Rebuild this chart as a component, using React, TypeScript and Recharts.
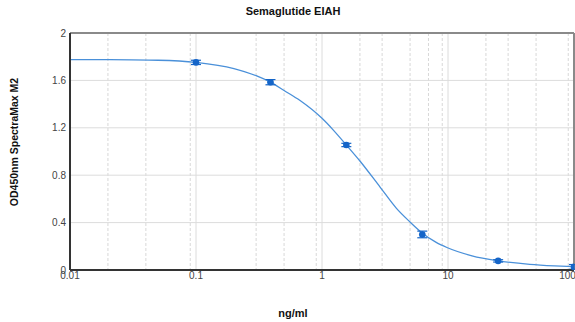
import { ComposedChart, Line, Scatter, ErrorBar, XAxis, YAxis, CartesianGrid, ReferenceLine } from 'recharts';

const concentrations = [0.1, 0.39, 1.56, 6.25, 25, 100];
const odMeans = [1.752, 1.585, 1.055, 0.3, 0.077, 0.026];
const odErrors = [0.018, 0.022, 0.014, 0.028, 0.01, 0.02];

const curveX = [0.01, 0.02, 0.05, 0.1, 0.2, 0.3, 0.39, 0.5, 0.67, 1, 1.22, 1.56, 2, 2.89, 3.9, 5, 6.2, 8, 9.8, 15.5, 24.5, 44.6, 70, 100];
const curveY = [1.776, 1.775, 1.77, 1.752, 1.7, 1.64, 1.585, 1.515, 1.43, 1.28, 1.185, 1.055, 0.92, 0.7, 0.52, 0.405, 0.315, 0.235, 0.19, 0.12, 0.079, 0.048, 0.035, 0.028];

const xTicks = [0.01, 0.1, 1, 10, 100];
const yTicks = [0, 0.4, 0.8, 1.2, 1.6, 2];
const minorTicks = [0.01, 0.1, 1, 10].flatMap((d) => [2, 3, 4, 5, 6, 7, 8, 9].map((m) => +(d * m).toPrecision(3)));

const points = concentrations.map((x, i) => ({ x, y: odMeans[i], err: odErrors[i] }));
const curve = curveX.map((x, i) => ({ x, y: curveY[i] }));

const font = '"Liberation Sans", Arial, sans-serif';

export default function App() {
  return (
    <div style={{ position: 'absolute', left: 0, top: 0, width: 575, height: 322, fontFamily: font, background: '#fff' }}>
      <ComposedChart width={575} height={322} margin={{ top: 33, right: 1, bottom: 32, left: 40 }}>
        <CartesianGrid horizontal={false} verticalValues={minorTicks} stroke="#d8d8d8" strokeDasharray="3 2" />
        <CartesianGrid horizontalValues={[0.4, 0.8, 1.2, 1.6]} verticalValues={[0.1, 1, 10]} stroke="#dcdcdc" />
        <XAxis
          dataKey="x"
          type="number"
          scale="log"
          domain={[0.01, 100]}
          ticks={xTicks}
          allowDataOverflow
          tickFormatter={(v: number) => String(v)}
          tickLine={false}
          tickSize={2}
          tickMargin={0}
          height={20}
          axisLine={{ stroke: '#333', strokeWidth: 2 }}
          tick={{ fontSize: 10, fill: '#444', fontFamily: font }}
        />
        <YAxis
          dataKey="y"
          type="number"
          domain={[0, 2]}
          ticks={yTicks}
          tickLine={false}
          tickSize={2}
          tickMargin={2}
          width={30}
          axisLine={{ stroke: '#333', strokeWidth: 2 }}
          tick={{ fontSize: 10, fill: '#444', fontFamily: font }}
        />
        <ReferenceLine y={2} stroke="#8a8a8a" strokeWidth={2} />
        <ReferenceLine x={100} stroke="#8a8a8a" strokeWidth={2} />
        <Line
          data={curve}
          dataKey="y"
          type="monotone"
          stroke="#4a90d9"
          strokeWidth={1.3}
          dot={false}
          activeDot={false}
          isAnimationActive={false}
        />
        <Scatter data={points} dataKey="y" fill="#1565c8" shape={(p: any) => <circle cx={p.cx} cy={p.cy} r={3.3} fill="#1565c8" />} isAnimationActive={false}>
          <ErrorBar dataKey="err" direction="y" width={5} stroke="#1565c8" strokeWidth={1.2} />
        </Scatter>
      </ComposedChart>
      <div style={{ position: 'absolute', left: 0, width: 586, top: 5, textAlign: 'center', fontSize: 11, fontWeight: 'bold', color: '#111' }}>
        Semaglutide EIAH
      </div>
      <div style={{ position: 'absolute', left: 0, width: 586, top: 307, textAlign: 'center', fontSize: 11, fontWeight: 'bold', color: '#111' }}>
        ng/ml
      </div>
      <div
        style={{
          position: 'absolute',
          left: 14,
          top: 142,
          transform: 'translate(-50%, -50%) rotate(-90deg)',
          whiteSpace: 'nowrap',
          fontSize: 10.5,
          fontWeight: 'bold',
          color: '#111',
        }}
      >
        OD450nm SpectraMax M2
      </div>
    </div>
  );
}
